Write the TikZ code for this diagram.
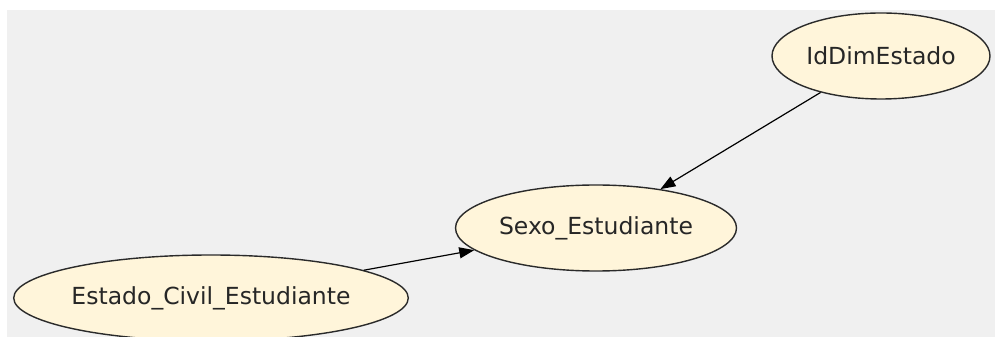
\documentclass[tikz,border=0pt]{standalone}
\usepackage{fontspec}
\setmainfont{DejaVu Sans}
\usetikzlibrary{shapes.geometric,arrows.meta}
\definecolor{fondo}{HTML}{F0F0F0}
\definecolor{crema}{HTML}{FFF5DA}
\definecolor{borde}{HTML}{2A2A2A}
\begin{document}
\begin{tikzpicture}[x=1pt,y=1pt,
    atributo/.style={ellipse,draw=borde,line width=1.4pt,fill=crema,inner sep=0pt,
      font=\fontsize{23.5}{28}\selectfont,text=black!85},
    rel/.style={line width=1.2pt,-{Triangle[length=15pt,width=11pt]}}]
    \useasboundingbox (0,0) rectangle (995,337);
    \fill[fondo] (7,0) rectangle (995,327);

    \node(iddim)[atributo,minimum width=218pt,minimum height=86pt] at (881,281) {IdDimEstado};
    \node(sexo)[atributo,minimum width=281pt,minimum height=86pt] at (596,109) {Sexo\_Estudiante};
    \node(civil)[atributo,minimum width=394pt,minimum height=86pt] at (211,39) {Estado\_Civil\_Estudiante};

    \path[rel]
    (iddim) edge (sexo)
    (civil) edge (sexo);

  \end{tikzpicture}
\end{document}
